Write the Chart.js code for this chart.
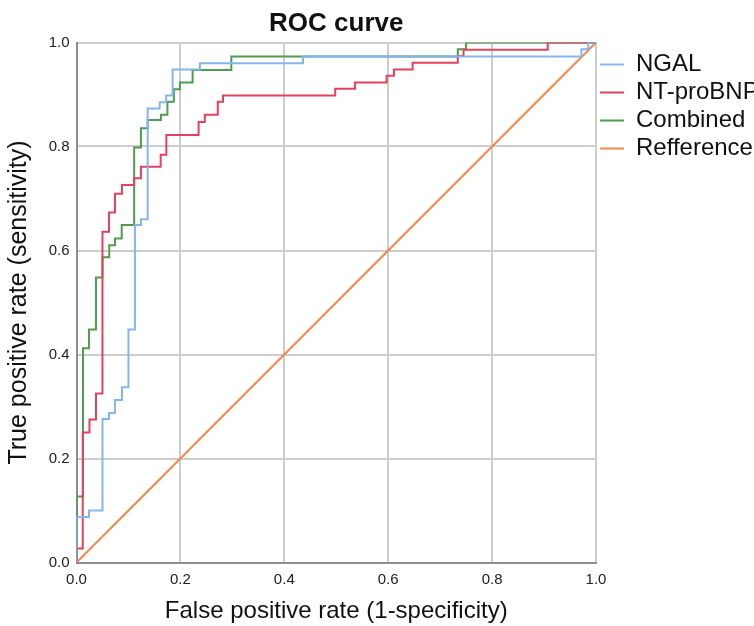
<!DOCTYPE html>
<html>
<head>
<meta charset="utf-8">
<script src="https://cdn.jsdelivr.net/npm/chart.js@4.4.1/dist/chart.umd.min.js"></script>
<style>
html, body { margin: 0; padding: 0; background: #fff; overflow: hidden; }
#wrap { width: 754px; height: 626px; }
</style>
</head>
<body>
<div id="wrap"><canvas id="roc"></canvas></div>
<script>
// ROC curves. each pair = (fpr where a tpr level ends, that tpr level)
var seriesNames = ['NGAL', 'NT-proBNP', 'Combined', 'Refference'];

var ngalFpr = [0, 0.024, 0.05, 0.0625, 0.074, 0.0875, 0.1, 0.1125, 0.124, 0.137, 0.16, 0.1725, 0.185, 0.2375, 0.436, 0.972, 0.985, 1];
var ngalTpr = [0, 0.0875, 0.1, 0.276, 0.2875, 0.3125, 0.337, 0.448, 0.649, 0.66, 0.873, 0.885, 0.898, 0.948, 0.96, 0.973, 0.987, 1];

var bnpFpr = [0, 0.012, 0.025, 0.0375, 0.05, 0.0625, 0.074, 0.0875, 0.111, 0.124, 0.162, 0.173, 0.235, 0.247, 0.272, 0.282, 0.498, 0.536, 0.597, 0.611, 0.647, 0.734, 0.745, 0.907, 1];
var bnpTpr = [0, 0.027, 0.25, 0.275, 0.325, 0.636, 0.673, 0.709, 0.726, 0.739, 0.761, 0.784, 0.822, 0.847, 0.861, 0.886, 0.898, 0.911, 0.923, 0.936, 0.948, 0.961, 0.974, 0.986, 1];

var combFpr = [0, 0.0125, 0.024, 0.0375, 0.05, 0.063, 0.074, 0.087, 0.111, 0.124, 0.137, 0.1625, 0.175, 0.1875, 0.199, 0.2235, 0.298, 0.734, 0.75, 1];
var combTpr = [0, 0.127, 0.412, 0.448, 0.548, 0.587, 0.61, 0.623, 0.649, 0.798, 0.835, 0.851, 0.861, 0.886, 0.91, 0.923, 0.947, 0.973, 0.987, 1];

var refFpr = [0, 1];
var refTpr = [0, 1];

var axisTicks = [0, 0.2, 0.4, 0.6, 0.8, 1.0];

var colors = ['#84b5ee', '#e3415f', '#4f9b4f', '#f4874b'];

function pts(xs, ys) {
    return xs.map(function (x, i) { return {x: x, y: ys[i]}; });
}

function lineSet(i, xs, ys, stepped) {
    return {
        label: seriesNames[i],
        data: pts(xs, ys),
        stepped: stepped,
        borderColor: colors[i],
        backgroundColor: colors[i],
        borderWidth: 2,
        pointRadius: 0
    };
}

var font = "'Liberation Sans', Arial, sans-serif";

var ctx = document.getElementById('roc').getContext('2d');
var chart = new Chart(ctx, {
    type: 'line',
    data: {
        datasets: [
            lineSet(0, ngalFpr, ngalTpr, 'after'),
            lineSet(1, bnpFpr, bnpTpr, 'after'),
            lineSet(2, combFpr, combTpr, 'after'),
            lineSet(3, refFpr, refTpr, false)
        ]
    },
    options: {
        responsive: true,
        maintainAspectRatio: false,
        devicePixelRatio: 1,
        animation: false,
        events: [],
        layout: {padding: 0},
        elements: {line: {tension: 0}},
        scales: {
            x: {
                type: 'linear', min: 0, max: 1,
                afterFit: function (s) { s.height = 63.5; },
                afterBuildTicks: function (s) { s.ticks = axisTicks.map(function (v) { return {value: v}; }); },
                ticks: {
                    padding: 8, color: '#222', font: {family: font, size: 15},
                    callback: function (v) { return Number(v).toFixed(1); }
                },
                grid: {color: '#cdcdcd', lineWidth: 2, drawTicks: false},
                border: {color: '#8e8e8e', width: 2},
                title: {display: true, text: 'False positive rate (1-specificity)', color: '#111',
                        font: {family: font, size: 24}, padding: {top: 0, bottom: 0}}
            },
            y: {
                type: 'linear', min: 0, max: 1,
                afterFit: function (s) { s.width = 76.5; },
                afterBuildTicks: function (s) { s.ticks = axisTicks.map(function (v) { return {value: v}; }); },
                ticks: {
                    padding: 7, color: '#222', font: {family: font, size: 15},
                    callback: function (v) { return Number(v).toFixed(1); }
                },
                grid: {color: '#cdcdcd', lineWidth: 2, drawTicks: false},
                border: {color: '#8e8e8e', width: 2},
                title: {display: true, text: 'True positive rate (sensitivity)', color: '#111',
                        font: {family: font, size: 25}, padding: {top: 4, bottom: 0}}
            }
        },
        plugins: {
            title: {
                display: true, text: 'ROC curve', color: '#111', fullSize: false,
                font: {family: font, size: 26, weight: 'bold'},
                padding: {top: 8, bottom: 3.3}
            },
            legend: {
                position: 'right', align: 'start', fullSize: false, maxWidth: 158,
                title: {display: true, text: ' ', font: {size: 6, lineHeight: 1}, padding: 0},
                labels: {
                    usePointStyle: true, pointStyle: 'line', pointStyleWidth: 24,
                    padding: 4, color: '#111', font: {family: font, size: 24}
                }
            },
            tooltip: {enabled: false}
        }
    }
});
</script>
</body>
</html>
